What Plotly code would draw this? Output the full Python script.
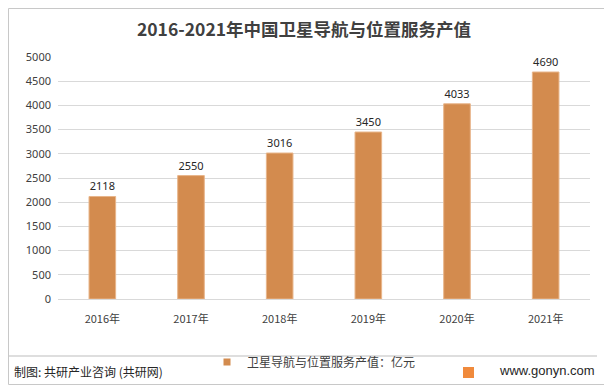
import plotly.graph_objects as go

years = ["2016年", "2017年", "2018年", "2019年", "2020年", "2021年"]
values = [2118, 2550, 3016, 3450, 4033, 4690]
y_ticks = [0, 500, 1000, 1500, 2000, 2500, 3000, 3500, 4000, 4500, 5000]

# page body has an 8px margin; reference coordinates are in page pixels
OX, OY = 8, 8
PAGE_W, PAGE_H = 612, 390
W, H = PAGE_W - OX, PAGE_H - OY
PL, PR, PT, PB = 58, 590, 57, 299   # plot area in page pixels
L, R, T, B = PL - OX, PAGE_W - PR, PT - OY, PAGE_H - PB
PW, PH = PR - PL, PB - PT

def px(x):
    return (x - PL) / PW
def py(y):
    return (PB - y) / PH

fig = go.Figure()
fig.add_trace(go.Bar(
    x=years, y=values, width=0.3,
    marker=dict(color="#D38B4E", line=dict(color="#E8B58A", width=1)),
    text=[str(v) for v in values], textposition="outside",
    textfont=dict(family="Noto Sans, Liberation Sans", size=11, color="#262626"),
    cliponaxis=False, showlegend=False,
))
fig.add_trace(go.Scatter(
    x=[None], y=[None], mode="markers",
    marker=dict(symbol="square", size=7, color="#D38B4E"),
    name="卫星导航与位置服务产值：亿元", showlegend=True,
))

fig.update_layout(
    width=W, height=H,
    margin=dict(l=L, r=R, t=T, b=B, pad=0),
    paper_bgcolor="white", plot_bgcolor="white",
    font=dict(family="Noto Sans CJK SC, Liberation Sans", color="#595959"),
    title=dict(text="<b>2016-2021年中国卫星导航与位置服务产值</b>",
               x=(304 - OX) / W, xanchor="center", y=1 - (30 - OY) / H, yanchor="middle",
               font=dict(size=17.5, color="#404040", family="Noto Sans CJK SC")),
    xaxis=dict(showgrid=False, showline=False, ticks="",
               tickfont=dict(size=11, color="#404040", family="Noto Sans CJK SC"),
               ticklabelstandoff=12),
    yaxis=dict(range=[0, 5000], tickvals=y_ticks, showgrid=True,
               gridcolor="#D9D9D9", gridwidth=1, zeroline=True,
               zerolinecolor="#D9D9D9", zerolinewidth=1, ticks="",
               tickfont=dict(size=11, color="#404040", family="Noto Sans, Liberation Sans"),
               ticklabelstandoff=6),
    legend=dict(orientation="h", x=px(314), xanchor="center", y=py(362), yanchor="middle",
                font=dict(size=12, color="#404040", family="Noto Sans CJK SC"),
                itemwidth=30, bgcolor="rgba(0,0,0,0)"),
    bargap=0.7,
    shapes=[
        dict(type="rect", xref="paper", yref="paper", x0=px(8.5), x1=px(606), y0=py(384.5), y1=py(8.5),
             line=dict(color="#C8C8C8", width=1), fillcolor="rgba(0,0,0,0)", layer="above"),
        dict(type="line", xref="paper", yref="paper", x0=px(9), x1=px(597), y0=py(356), y1=py(356),
             line=dict(color="#BDBDBD", width=1.2), layer="above"),
        dict(type="rect", xref="paper", yref="paper", x0=px(463), x1=px(474), y0=py(378), y1=py(367),
             line=dict(width=0), fillcolor="#F08A3C"),
    ],
    annotations=[
        dict(text="制图: 共研产业咨询 (共研网)", xref="paper", yref="paper",
             x=px(12), y=py(371), xanchor="left", yanchor="middle", showarrow=False,
             font=dict(size=12, color="#262626", family="Noto Sans CJK SC")),
        dict(text="www.gonyn.com", xref="paper", yref="paper",
             x=px(597), y=py(370), xanchor="right", yanchor="middle", showarrow=False,
             font=dict(size=13, color="#262626", family="Liberation Sans, Arial")),
    ],
)

fig.write_html("out.html")
